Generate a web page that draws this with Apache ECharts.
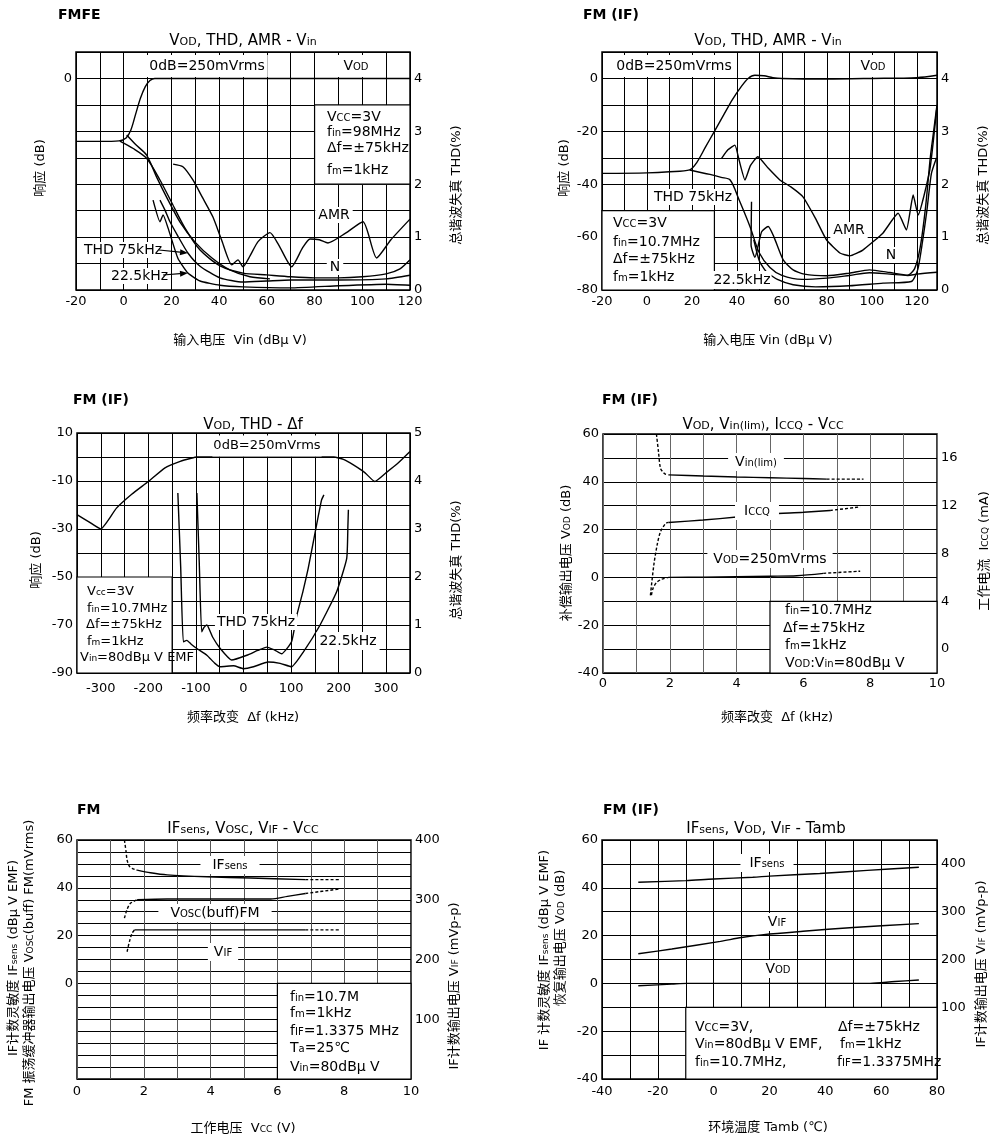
<!DOCTYPE html>
<html>
<head>
<meta charset="utf-8">
<script src="https://cdn.jsdelivr.net/npm/echarts@6/dist/echarts.min.js"></script>
<style>
html, body { margin: 0; padding: 0; background: #fff; }
#main { width: 994px; height: 1137px; }
</style>
</head>
<body>
<div id="main"></div>
<script>
// ---- tick labels ----
const p1XTicks = [-20, 0, 20, 40, 60, 80, 100, 120];
const p1LeftTicks = [0];
const thdTicks = [0, 1, 2, 3, 4];
const p2LeftTicks = [-80, -60, -40, -20, 0];
const p3XTicks = [-300, -200, -100, 0, 100, 200, 300];
const p3LeftTicks = [-90, -70, -50, -30, -10, 10];
const p3RightTicks = [0, 1, 2, 3, 4, 5];
const vccTicks = [0, 2, 4, 6, 8, 10];
const p4LeftTicks = [-40, -20, 0, 20, 40, 60];
const p4RightTicks = [0, 4, 8, 12, 16];
const p5LeftTicks = [0, 20, 40, 60];
const vifTicks = [100, 200, 300, 400];
const p6XTicks = [-40, -20, 0, 20, 40, 60, 80];

// ---- panel 1: FMFE, x = Vin (dBuV) ----
const p1Vod = [[-20, -23.8], [-10, -23.8], [-2, -23.6], [1, -22.5], [3, -19.5], [5, -13.5], [7, -7.5], [9, -3.2], [11, -0.8], [13, 0], [40, 0], [80, 0], [120, 0]];
const p1N = [[-1.6, -23.7], [4, -26.5], [9.6, -30.2], [15.2, -38.4], [20.2, -47.1], [25.7, -56.6], [32, -64.9], [40.4, -70.9], [50, -73.6], [60, -74.3], [70, -75], [80, -75.4], [90, -75.4], [100, -75], [110, -73.9], [115.8, -72], [120, -68.6]];
const p1B = [[1.25, -21.4], [5, -25], [9.6, -29], [14, -37.7], [18.6, -46], [23.6, -54.3], [29.9, -61.9], [37, -67.9], [44.5, -72.4], [52.9, -75], [61.3, -75.8]];
const p1Amr = [[20.7, -32.4], [24.8, -33.4], [29, -38.4], [33, -45], [37.4, -52.4], [41, -61], [45.3, -70.5], [47.9, -68.6], [50, -71.2], [53, -67], [56.3, -61.7], [61.3, -58.3], [65, -63], [70.4, -71.2], [75, -64], [78.1, -60.7], [82, -61], [85.6, -62.2], [93, -58.5], [100.3, -54.2], [106, -67.9], [112, -61], [120, -53.2]];
const p1Thd75 = [[15.2, 1.7], [17.3, 1.51], [19.4, 1.29], [22.7, 1.02], [26.9, 0.7], [32, 0.45], [40.3, 0.23], [50, 0.15], [60, 0.17], [70, 0.19], [90, 0.19], [110, 0.21], [120, 0.28]];
const p1Thd22 = [[12.3, 1.7], [15.2, 1.29], [16.5, 1.42], [18.6, 1.17], [22.7, 0.6], [26.9, 0.32], [32, 0.17], [40.3, 0.09], [50, 0.06], [70, 0.04], [90, 0.08], [110, 0.11], [120, 0.09]];

// ---- panel 2: FM(IF), x = Vin (dBuV) ----
const p2Vod = [[-20, -35.9], [0, -35.7], [10, -35.3], [19, -34.6], [22, -32], [26, -26], [30, -20], [34, -14], [38, -8], [42, -3], [45, 0], [48, 1.2], [52, 1], [56, 0.3], [60, 0], [80, -0.2], [100, 0], [120, 0.3], [129, 1.2]];
const p2N = [[19, -34.6], [28, -36.3], [33, -37.4], [37, -38.4], [41, -46], [45.8, -56], [50, -66], [54.7, -71.5], [60, -74.5], [69, -76], [80, -75.5], [90, -74.5], [99, -73.5], [108, -74], [116, -74.5], [120, -74], [129, -73.3]];
const p2Amr = [[33.2, -30.2], [36, -27], [39.1, -25.2], [41, -31], [43.6, -38.4], [46, -33], [49.3, -29.6], [54, -34], [59.1, -38.4], [64, -41], [69.3, -44.7], [75, -53], [79.9, -61.1], [85.8, -66], [90.2, -67.1], [96, -64.9], [104.9, -58.5], [111.7, -51], [115.4, -57.3], [118.4, -44.1], [120.6, -51.6], [125.8, -34.6], [128.8, -12]];
const p2Thd75 = [[46.5, 1.67], [46.3, 0.85], [48, 0.62], [51, 1.1], [53.9, 1.2], [56.5, 1.0], [60.6, 0.57], [65, 0.38], [70, 0.3], [80, 0.27], [90, 0.32], [99, 0.38], [108, 0.33], [116, 0.28], [119, 0.4], [121.5, 0.8], [124, 1.6], [126, 2.5], [127.5, 3.0], [129, 3.5]];
const p2Thd22 = [[47.5, 0.95], [50, 0.55], [53, 0.35], [58, 0.2], [65, 0.1], [75, 0.06], [90, 0.08], [105, 0.13], [117.6, 0.16], [120.4, 0.38], [122.5, 0.9], [124.5, 1.5], [126.5, 2.2], [128.8, 2.5]];

// ---- panel 3: FM(IF), x = delta f (kHz) ----
const p3Vod = [[-350, -24], [-325, -27], [-300, -30], [-285, -26.5], [-267, -21.3], [-235, -15.5], [-200, -10.2], [-165, -4.5], [-133, -1.8], [-110, -0.5], [-98, 0], [190, 0], [210, -1], [231, -3.3], [255, -6.5], [276, -10.2], [300, -6.5], [325, -2.5], [350, 2.3]];
const p3Thd75 = [[-98, 3.75], [-93, 2.3], [-88, 0.86], [-83, 0.95], [-77, 1.0], [-65, 0.75], [-49, 0.51], [-25, 0.27], [7, 0.37], [30, 0.47], [49, 0.54], [65, 0.48], [80, 0.4], [101, 0.65], [112, 1.2], [125, 1.7], [136, 2.18], [150, 2.9], [164, 3.6], [169, 3.71]];
const p3Thd22 = [[-138, 3.75], [-132, 2.2], [-126.5, 0.65], [-119, 0.68], [-110, 0.6], [-98, 0.51], [-77, 0.37], [-60, 0.2], [-49, 0.13], [-21, 0.15], [0, 0.09], [21, 0.13], [52, 0.23], [77, 0.2], [101, 0.13], [126, 0.44], [161, 1.0], [196, 1.7], [217, 2.39], [219.5, 3.08], [220.5, 3.4]];

// ---- panel 4: FM(IF), x = Vcc (V) ----
const p4VinLimDash = [[1.6, 60], [1.66, 52.7], [1.72, 45.7], [1.8, 44], [1.87, 43.2], [1.96, 42.9]];
const p4VinLim = [[1.96, 42.9], [3, 42.4], [4, 42], [5, 41.7], [6, 41.4], [6.7, 41.1]];
const p4VinLimDot = [[6.7, 41.1], [7.8, 41.1]];
const p4IccqDash = [[1.42, 4.5], [1.52, 7.0], [1.62, 8.7], [1.72, 9.8], [1.87, 10.5], [1.96, 10.6]];
const p4Iccq = [[1.96, 10.6], [3, 10.8], [4, 11.05], [5, 11.3], [6, 11.45], [6.8, 11.6]];
const p4IccqDot = [[6.8, 11.6], [7.7, 11.9]];
const p4VodDash = [[1.45, -7.4], [1.5, -4.5], [1.6, -2.2], [1.75, -0.8], [1.96, 0]];
const p4Vod = [[1.96, 0], [3, 0.1], [4, 0.3], [5, 0.5], [5.8, 0.7], [6.6, 1.7]];
const p4VodDot = [[6.6, 1.7], [7.7, 2.6]];

// ---- panel 5: FM, x = Vcc (V) ----
const p5IfDash = [[1.42, 60], [1.47, 55], [1.5, 51.6], [1.57, 49], [1.65, 48.1], [1.8, 47.4]];
const p5If = [[1.8, 47.4], [2.2, 46.3], [2.7, 45.4], [3.9, 44.6], [5.2, 44.1], [6.84, 43.4]];
const p5IfDot = [[6.84, 43.4], [7.85, 43.4]];
const p5OscDash = [[1.42, 27.3], [1.5, 31], [1.6, 33.5], [1.8, 35]];
const p5Osc = [[1.8, 35], [2.7, 35.3], [4, 35.3], [5.8, 35.3], [6.3, 36.4], [6.84, 37.6]];
const p5OscDot = [[6.84, 37.6], [7.85, 39.5]];
const p5VifDash = [[1.5, 213], [1.57, 230], [1.65, 244], [1.72, 249.5]];
const p5Vif = [[1.72, 249.5], [6.84, 249.5]];
const p5VifDot = [[6.84, 249.5], [7.85, 249.5]];

// ---- panel 6: FM(IF), x = Tamb (C) ----
const p6If = [[-27, 42.3], [-10, 43], [0, 43.7], [14, 44.4], [20, 44.9], [38, 46], [55, 47.3], [73.5, 48.6]];
const p6Vif = [[-27, 212], [-15, 222], [2.4, 238], [10, 246], [17.9, 252], [32, 259], [50, 267], [73.5, 275]];
const p6Vod = [[-27, -1], [-15, -0.3], [-9.5, 0], [20, 0], [40, 0], [56, 0], [65, 0.8], [73.5, 1.4]];

const FONT = '"DejaVu Sans", "Noto Sans CJK SC", sans-serif';
const chart = echarts.init(document.getElementById('main'), null, { renderer: 'canvas' });

const grids = [
  { left: 76, top: 52, width: 334, height: 238 },
  { left: 602, top: 52, width: 335, height: 238 },
  { left: 77, top: 433, width: 333, height: 240 },
  { left: 603, top: 434, width: 334, height: 239 },
  { left: 77, top: 840, width: 334, height: 239 },
  { left: 602, top: 840, width: 335, height: 239 }
].map(g => Object.assign(g, { show: true, borderColor: '#000', borderWidth: 1.5, containLabel: false }));

function pick(list) {
  return v => (list.indexOf(Math.round(v * 1000) / 1000) >= 0 ? String(v) : '');
}

function xAx(gi, min, max, interval, ticks, margin, splitColor) {
  return {
    type: 'value', gridIndex: gi, min: min, max: max, interval: interval,
    axisLine: { show: false }, axisTick: { show: false },
    axisLabel: { formatter: pick(ticks), margin: margin, fontSize: 13, fontFamily: FONT, color: '#000', showMaxLabel: true, showMinLabel: true },
    splitLine: { show: true, lineStyle: { color: splitColor || '#000', width: 1 } }
  };
}

function yAx(gi, pos, min, max, interval, ticks, split) {
  return {
    type: 'value', gridIndex: gi, position: pos, min: min, max: max, interval: interval,
    axisLine: { show: false }, axisTick: { show: false },
    axisLabel: { formatter: pick(ticks), margin: 4, fontSize: 13, fontFamily: FONT, color: '#000' },
    splitLine: { show: !!split, lineStyle: { color: '#000', width: 1 } }
  };
}

const xAxes = [
  xAx(0, -20, 120, 10, p1XTicks, 5),
  xAx(1, -20, 129, 10, p1XTicks, 5),
  xAx(2, -350, 350, 50, p3XTicks, 9),
  xAx(3, 0, 10, 1, vccTicks, 4, '#666'),
  xAx(4, 0, 10, 1, vccTicks, 6, '#555'),
  xAx(5, -40, 80, 10, p6XTicks, 6)
];

// y axes: even index = left, odd index = right of each grid
const yAxes = [
  yAx(0, 'left', -80, 10, 10, p1LeftTicks, true),
  yAx(0, 'right', 0, 4.5, 0.5, thdTicks, false),
  yAx(1, 'left', -80, 10, 10, p2LeftTicks, true),
  yAx(1, 'right', 0, 4.5, 0.5, thdTicks, false),
  yAx(2, 'left', -90, 10, 20, p3LeftTicks, false),
  yAx(2, 'right', 0, 5, 0.5, p3RightTicks, true),
  yAx(3, 'left', -40, 60, 10, p4LeftTicks, true),
  yAx(3, 'right', -2, 18, 2, p4RightTicks, false),
  yAx(4, 'left', -40, 60, 5, p5LeftTicks, true),
  yAx(4, 'right', 0, 400, 100, vifTicks, false),
  yAx(5, 'left', -40, 60, 10, p4LeftTicks, true),
  yAx(5, 'right', -50, 450, 50, vifTicks, false)
];

function ln(data, xi, yi, type, smooth) {
  return {
    type: 'line', data: data, xAxisIndex: xi, yAxisIndex: yi,
    symbol: 'none', showSymbol: false, silent: true, animation: false,
    smooth: smooth === undefined ? 0.3 : smooth, z: 3,
    lineStyle: { color: '#000', width: 1.4, type: type || 'solid' }
  };
}

const series = [
  ln(p1Vod, 0, 0), ln(p1N, 0, 0, 'solid', 0.25), ln(p1B, 0, 0, 'solid', 0.25), ln(p1Amr, 0, 0, 'solid', 0.2),
  ln(p1Thd75, 0, 1, 'solid', 0.2), ln(p1Thd22, 0, 1, 'solid', 0.15),
  ln(p2Vod, 1, 2), ln(p2N, 1, 2), ln(p2Amr, 1, 2, 'solid', 0.15),
  ln(p2Thd75, 1, 3, 'solid', 0.2), ln(p2Thd22, 1, 3, 'solid', 0.2),
  ln(p3Vod, 2, 4, 'solid', 0.15), ln(p3Thd75, 2, 5, 'solid', 0.15), ln(p3Thd22, 2, 5, 'solid', 0.15),
  ln(p4VinLimDash, 3, 6, [3, 2]), ln(p4VinLim, 3, 6), ln(p4VinLimDot, 3, 6, [3, 2]),
  ln(p4IccqDash, 3, 7, [3, 2]), ln(p4Iccq, 3, 7), ln(p4IccqDot, 3, 7, [3, 2]),
  ln(p4VodDash, 3, 6, [3, 2]), ln(p4Vod, 3, 6), ln(p4VodDot, 3, 6, [3, 2]),
  ln(p5IfDash, 4, 8, [3, 2]), ln(p5If, 4, 8), ln(p5IfDot, 4, 8, [3, 2]),
  ln(p5OscDash, 4, 8, [3, 2]), ln(p5Osc, 4, 8), ln(p5OscDot, 4, 8, [3, 2]),
  ln(p5VifDash, 4, 9, [3, 2]), ln(p5Vif, 4, 9), ln(p5VifDot, 4, 9, [3, 2]),
  ln(p6If, 5, 10), ln(p6Vif, 5, 11), ln(p6Vod, 5, 10)
];

chart.setOption({
  animation: false,
  backgroundColor: '#fff',
  grid: grids,
  xAxis: xAxes,
  yAxis: yAxes,
  series: series
});

// ---- annotation graphics ----
function txt(x, y, text, o) {
  o = o || {};
  const size = o.size || 14;
  return {
    type: 'text', x: x, y: y, rotation: o.rot || 0, z: o.z || 10,
    style: {
      text: text, fontSize: size, fontFamily: FONT, fontWeight: o.bold ? 'bold' : 'normal',
      fill: '#000',
      align: o.align || 'center', verticalAlign: 'middle',
      textAlign: o.align || 'center', textVerticalAlign: 'middle',
      backgroundColor: o.bg ? '#fff' : 'transparent',
      padding: o.bg ? (o.pad || [1, 4]) : 0,
      rich: { s: { fontSize: Math.round(size * 0.72), fontFamily: FONT, verticalAlign: 'bottom', padding: [0, 0, 1, 0] } }
    }
  };
}

function box(gi, x1, y1, x2, y2) {
  const a = chart.convertToPixel({ xAxisIndex: gi, yAxisIndex: gi * 2 }, [x1, y1]);
  const b = chart.convertToPixel({ xAxisIndex: gi, yAxisIndex: gi * 2 }, [x2, y2]);
  return {
    type: 'rect', z: 1,
    shape: { x: a[0], y: a[1], width: b[0] - a[0], height: b[1] - a[1] },
    style: { fill: '#fff', stroke: '#000', lineWidth: 1.2 }
  };
}

function arrow(x1, y1, x2, y2) {
  const ang = Math.atan2(y2 - y1, x2 - x1), L = 8, W = 3;
  const bx = x2 - L * Math.cos(ang), by = y2 - L * Math.sin(ang);
  return [
    { type: 'line', z: 10, shape: { x1: x1, y1: y1, x2: bx, y2: by }, style: { stroke: '#000', lineWidth: 1.2 } },
    { type: 'polygon', z: 10, shape: { points: [[x2, y2], [bx - W * Math.sin(ang), by + W * Math.cos(ang)], [bx + W * Math.sin(ang), by - W * Math.cos(ang)]] }, style: { fill: '#000' } }
  ];
}

const g = [];
// boxes that hide the grid
g.push(box(0, 80, -10, 120, -40));
g.push(box(1, -20, -50, 30, -80));
g.push(box(2, -350, -50, -150, -90));
g.push(box(3, 5, -10, 10, -40));
g.push(box(4, 6, 0, 10, -40));
g.push(box(5, -10, -10, 80, -40));

// panel headers
g.push(txt(58, 15, 'FMFE', { bold: true, align: 'left' }));
g.push(txt(583, 15, 'FM (IF)', { bold: true, align: 'left' }));
g.push(txt(73, 400, 'FM (IF)', { bold: true, align: 'left' }));
g.push(txt(602, 400, 'FM (IF)', { bold: true, align: 'left' }));
g.push(txt(77, 810, 'FM', { bold: true, align: 'left' }));
g.push(txt(603, 810, 'FM (IF)', { bold: true, align: 'left' }));

// titles
g.push(txt(243, 41, 'V{s|OD}, THD, AMR - V{s|in}', { size: 15 }));
g.push(txt(768, 41, 'V{s|OD}, THD, AMR - V{s|in}', { size: 15 }));
g.push(txt(253, 425, 'V{s|OD}, THD - Δf', { size: 15 }));
g.push(txt(763, 425, 'V{s|OD}, V{s|in(lim)}, I{s|CCQ} - V{s|CC}', { size: 15 }));
g.push(txt(243, 829, 'IF{s|sens}, V{s|OSC}, V{s|IF} - V{s|CC}', { size: 15 }));
g.push(txt(766, 829, 'IF{s|sens}, V{s|OD}, V{s|IF} - Tamb', { size: 15 }));

// x axis names
g.push(txt(240, 341, '输入电压  Vin (dBμ V)', { size: 13 }));
g.push(txt(768, 341, '输入电压 Vin (dBμ V)', { size: 13 }));
g.push(txt(243, 718, '频率改变  Δf (kHz)', { size: 13 }));
g.push(txt(777, 718, '频率改变  Δf (kHz)', { size: 13 }));
g.push(txt(243, 1129, '工作电压  V{s|CC} (V)', { size: 13 }));
g.push(txt(768, 1128, '环境温度 Tamb (℃)', { size: 13 }));

// y axis names (rotated)
const R = Math.PI / 2;
g.push(txt(41, 168, '响应 (dB)', { size: 13, rot: R }));
g.push(txt(457, 185, '总谐波失真 THD(%)', { size: 13, rot: R }));
g.push(txt(565, 168, '响应 (dB)', { size: 13, rot: R }));
g.push(txt(984, 185, '总谐波失真 THD(%)', { size: 13, rot: R }));
g.push(txt(37, 560, '响应 (dB)', { size: 13, rot: R }));
g.push(txt(457, 560, '总谐波失真 THD(%)', { size: 13, rot: R }));
g.push(txt(567, 553, '补偿输出电压 V{s|OD} (dB)', { size: 13, rot: R }));
g.push(txt(985, 551, '工作电流  I{s|CCQ} (mA)', { size: 13, rot: R }));
g.push(txt(14, 958, 'IF计数灵敏度 IF{s|sens} (dBμ V EMF)', { size: 13, rot: R }));
g.push(txt(30, 963, 'FM 振荡缓冲器输出电压 V{s|OSC}(buff) FM(mVrms)', { size: 13, rot: R }));
g.push(txt(455, 986, 'IF计数输出电压 V{s|IF} (mVp-p)', { size: 13, rot: R }));
g.push(txt(545, 950, 'IF 计数灵敏度 IF{s|sens} (dBμ V EMF)', { size: 13, rot: R }));
g.push(txt(561, 938, '恢复输出电压 V{s|OD} (dB)', { size: 13, rot: R }));
g.push(txt(982, 964, 'IF计数输出电压 V{s|IF} (mVp-p)', { size: 13, rot: R }));

// panel 1 labels
g.push(txt(207, 66, '0dB=250mVrms', { bg: true, pad: [4, 3] }));
g.push(txt(356, 66, 'V{s|OD}', { bg: true, pad: [4, 6] }));
g.push(txt(334, 215, 'AMR', { bg: true, pad: [1, 3] }));
g.push(txt(335, 267, 'N', { bg: true, pad: [1, 3] }));
g.push(txt(83, 250, 'THD 75kHz', { bg: true, pad: [1, 1], align: 'left' }));
g.push(txt(110, 276, '22.5kHz', { bg: true, pad: [1, 1], align: 'left' }));
arrow(159, 250, 188, 253).forEach(e => g.push(e));
arrow(163, 275, 188, 273).forEach(e => g.push(e));
[['V{s|CC}=3V', 117], ['f{s|in}=98MHz', 132], ['Δf=±75kHz', 148], ['f{s|m}=1kHz', 170]].forEach(r => g.push(txt(327, r[1], r[0], { align: 'left' })));

// panel 2 labels
g.push(txt(674, 66, '0dB=250mVrms', { bg: true, pad: [4, 4] }));
g.push(txt(873, 66, 'V{s|OD}', { bg: true, pad: [4, 6] }));
g.push(txt(693, 197, 'THD 75kHz', { bg: true, pad: [1, 2] }));
g.push(txt(742, 280, '22.5kHz', { bg: true, pad: [2, 1] }));
g.push(txt(849, 230, 'AMR', { bg: true, pad: [1, 3] }));
g.push(txt(891, 255, 'N', { bg: true, pad: [1, 3] }));
[['V{s|CC}=3V', 223], ['f{s|in}=10.7MHz', 242], ['Δf=±75kHz', 259], ['f{s|m}=1kHz', 277]].forEach(r => g.push(txt(613, r[1], r[0], { align: 'left' })));

// panel 3 labels
g.push(txt(267, 446, '0dB=250mVrms', { bg: true, pad: [4, 1], size: 13 }));
g.push(txt(256, 622, 'THD 75kHz', { bg: true, pad: [1, 2] }));
g.push(txt(348, 641, '22.5kHz', { bg: true, pad: [2, 3] }));
[['V{s|cc}=3V', 592, 87], ['f{s|in}=10.7MHz', 609, 87], ['Δf=±75kHz', 625, 86], ['f{s|m}=1kHz', 642, 87], ['V{s|in}=80dBμ V EMF', 658, 80]].forEach(r => g.push(txt(r[2], r[1], r[0], { align: 'left', size: 13 })));

// panel 4 labels
g.push(txt(756, 462, 'V{s|in(lim)}', { bg: true, pad: [2, 7] }));
g.push(txt(757, 511, 'I{s|CCQ}', { bg: true, pad: [2, 9] }));
g.push(txt(770, 559, 'V{s|OD}=250mVrms', { bg: true, pad: [2, 6] }));
[['f{s|in}=10.7MHz', 610, 785], ['Δf=±75kHz', 628, 783], ['f{s|m}=1kHz', 645, 785], ['V{s|OD}:V{s|in}=80dBμ V', 663, 785]].forEach(r => g.push(txt(r[2], r[1], r[0], { align: 'left' })));

// panel 5 labels
g.push(txt(230, 865, 'IF{s|sens}', { bg: true, pad: [2, 12] }));
g.push(txt(215, 913, 'V{s|OSC}(buff)FM', { bg: true, pad: [2, 12] }));
g.push(txt(223, 952, 'V{s|IF}', { bg: true, pad: [2, 6] }));
[['f{s|in}=10.7M', 997], ['f{s|m}=1kHz', 1013], ['f{s|IF}=1.3375 MHz', 1031], ['T{s|a}=25℃', 1048], ['V{s|in}=80dBμ V', 1067]].forEach(r => g.push(txt(290, r[1], r[0], { align: 'left' })));

// panel 6 labels
g.push(txt(767, 863, 'IF{s|sens}', { bg: true, pad: [2, 9] }));
g.push(txt(777, 922, 'V{s|IF}', { bg: true, pad: [2, 6] }));
g.push(txt(778, 969, 'V{s|OD}', { bg: true, pad: [2, 5] }));
[['V{s|CC}=3V,', 1027, 695], ['V{s|in}=80dBμ V EMF,', 1044, 695], ['f{s|in}=10.7MHz,', 1062, 695],
 ['Δf=±75kHz', 1027, 838], ['f{s|m}=1kHz', 1044, 840], ['f{s|IF}=1.3375MHz', 1062, 837]].forEach(r => g.push(txt(r[2], r[1], r[0], { align: 'left' })));

chart.setOption({ graphic: { elements: g } });
</script>
</body>
</html>
